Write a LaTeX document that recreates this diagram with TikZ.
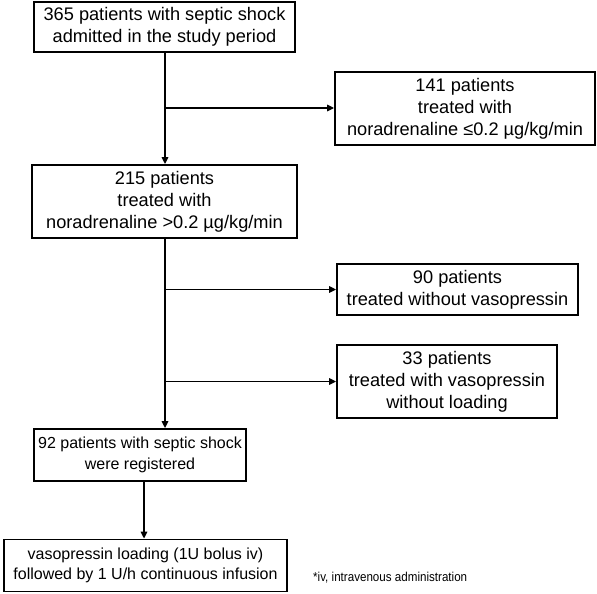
\documentclass[tikz,border=0pt]{standalone}
\usepackage{fontspec}
\setmainfont{Liberation Sans}
\newfontfamily\notefont[FakeStretch=0.9]{Liberation Sans}
\usetikzlibrary{arrows.meta,calc}
\begin{document}
\begin{tikzpicture}[x=1pt,y=-1pt,
  box/.style={draw,line width=1.8pt,rectangle,inner sep=0pt,align=center,
    font=\fontsize{18.2}{22}\selectfont},
  smallbox/.style={box,font=\fontsize{16}{20.5}\selectfont},
  arr/.style={line width=1.5pt,-{Triangle[length=7pt,width=6.5pt]}},
  ln/.style={line width=1.5pt}]
\useasboundingbox (0,0) rectangle (597,594);
\node[box,minimum width=261pt,minimum height=50pt] (box1) at (164.5,27) {365 patients with septic shock\\admitted in the study period};
\node[box,minimum width=260pt,minimum height=73pt] (box2) at (465,108.5) {141 patients\\treated with\\noradrenaline ≤0.2 µg/kg/min};
\node[box,minimum width=265pt,minimum height=73pt] (box3) at (164.5,201.5) {215 patients\\treated with\\noradrenaline >0.2 µg/kg/min};
\node[box,minimum width=241pt,minimum height=51pt] (box4) at (457.5,289.5) {90 patients\\treated without vasopressin};
\node[box,minimum width=220pt,minimum height=73pt] (box5) at (447,381.5) {33 patients\\treated with vasopressin\\without loading};
\node[smallbox,minimum width=212pt,minimum height=52pt] (box6) at (140,455) {92 patients with septic shock\\were registered};
\node[smallbox,minimum width=283pt,minimum height=52pt] (box7) at (145.5,565.5) {vasopressin loading (1U bolus iv)\\followed by 1 U/h continuous infusion};
\node[anchor=west,inner sep=0pt,font=\notefont\fontsize{12.9}{14}\selectfont] (note) at (313,578) {*iv, intravenous administration};
\coordinate (col1) at (165,0);
\coordinate (col2) at (144,0);
\coordinate (j1) at (165,108);
\coordinate (j2) at (165,289.5);
\coordinate (j3) at (165,381.5);
\draw[arr] (box1.south -| col1) -- (box3.north -| col1);
\draw[arr] (j1) -- (j1 -| box2.west);
\draw[arr] (box3.south -| col1) -- (box6.north -| col1);
\draw[arr] (j2) -- (j2 -| box4.west);
\draw[arr] (j3) -- (j3 -| box5.west);
\draw[arr] (box6.south -| col2) -- (box7.north -| col2);
\end{tikzpicture}
\end{document}
